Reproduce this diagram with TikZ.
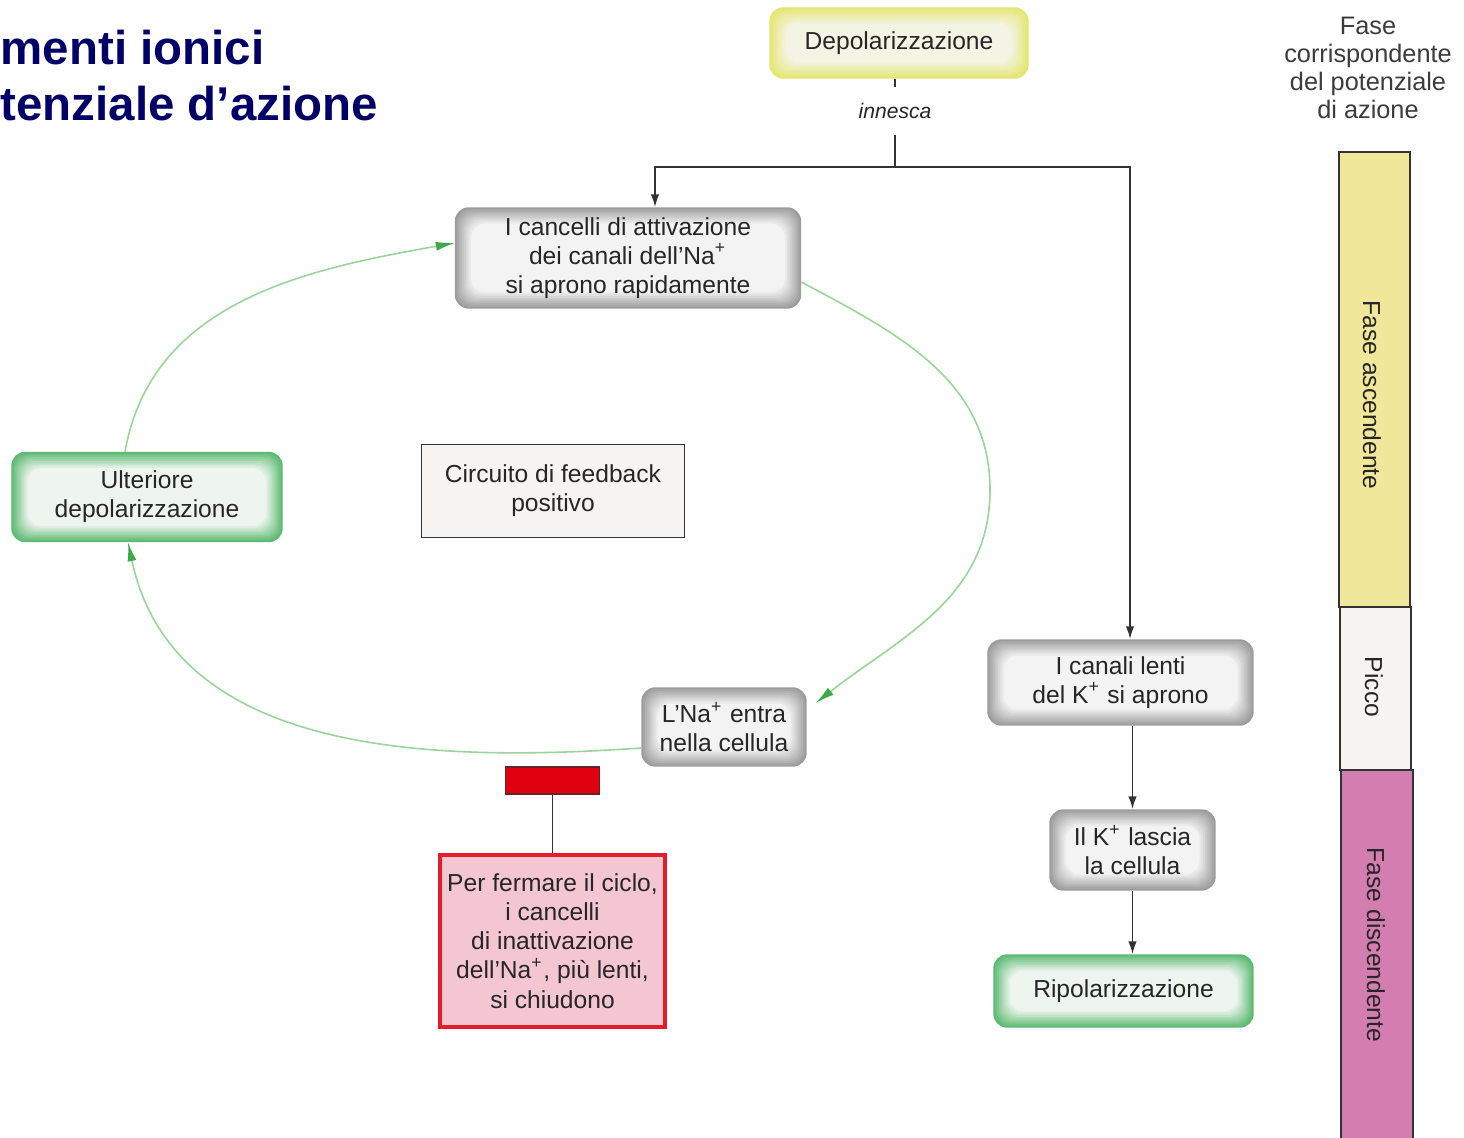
\documentclass[tikz,border=0pt]{standalone}
\usepackage{fontspec}
\setmainfont{Liberation Sans}
\usetikzlibrary{arrows.meta, positioning, backgrounds, calc}
\definecolor{CNavy}{HTML}{000066}
\definecolor{CInk}{HTML}{262626}
\definecolor{CLine}{HTML}{333333}
\definecolor{CGrayEdge}{HTML}{9C9C9C}
\definecolor{CGrayCore}{HTML}{F4F4F4}
\definecolor{CGreenEdge}{HTML}{5DBA72}
\definecolor{CGreenCore}{HTML}{F0F6F0}
\definecolor{CYellowEdge}{HTML}{E4E672}
\definecolor{CYellowCore}{HTML}{F4F4E6}
\definecolor{CLoop}{HTML}{9AD49A}
\definecolor{CLoopTip}{HTML}{3DAA4A}
\definecolor{CRedBar}{HTML}{E0000F}
\definecolor{CPinkFill}{HTML}{F4C6D2}
\definecolor{CPinkEdge}{HTML}{E21E2A}
\definecolor{CBarYellow}{HTML}{F1E79B}
\definecolor{CBarWhite}{HTML}{F6F4F2}
\definecolor{CBarPink}{HTML}{D47DB1}

% soft edged box behind a node: node, edge colour, core colour
\newcommand{\glowbox}[3]{%
  \begin{scope}[on background layer]
    \foreach \k in {0,...,9}{
      \pgfmathsetmacro{\inset}{0.018*\k}
      \pgfmathtruncatemacro{\mix}{100-11*\k}
      \fill[#2!\mix!#3, rounded corners=1.4mm]
        ([shift={(\inset,-\inset)}]#1.north west) rectangle ([shift={(-\inset,\inset)}]#1.south east);
    }
  \end{scope}}

\begin{document}
\begin{tikzpicture}[
    tag/.style={align=center, text=CInk, font=\fontsize{7}{8.3}\selectfont, inner sep=0pt},
    link/.style={CLine, line width=0.55pt},
    linkarrow/.style={link, -{Latex[length=1.3mm, width=0.85mm]}},
    feedback/.style={CLoop, line width=0.45pt, -{Latex[length=1.9mm, width=0.9mm, color=CLoopTip]}},
    heading/.style={anchor=base west, text=CNavy, font=\fontsize{13.5}{16}\selectfont\bfseries, inner sep=0pt}
]
    \useasboundingbox (0,0) rectangle (14.64,-11.38);
    \begin{scope}[on background layer]
        \fill[white] (0,0) rectangle (14.64,-11.38);
    \end{scope}

    % Title
    \node[heading] (title1) at (0.0,-0.65) {menti ionici};
    \node[heading] (title2) at (0.0,-1.21) {tenziale d’azione};

    % Trigger
    \node[tag, minimum width=2.58cm, minimum height=0.70cm] (depol) at (8.99,-0.43) {Depolarizzazione};
    \glowbox{depol}{CYellowEdge}{CYellowCore}
    \node[tag, font=\fontsize{6}{7}\selectfont\itshape, inner sep=1.6mm] (innesca) at (8.95,-1.11) {innesca};
    \coordinate (split) at (8.95,-1.67);

    % Positive feedback loop
    \node[tag, minimum width=3.45cm, minimum height=1.00cm] (cancelli) at (6.28,-2.58)
        {I cancelli di attivazione\\dei canali dell'Na\textsuperscript{+}\\si aprono rapidamente};
    \glowbox{cancelli}{CGrayEdge}{CGrayCore}
    \node[tag, minimum width=2.70cm, minimum height=0.89cm] (ulteriore) at (1.47,-4.97)
        {Ulteriore\\depolarizzazione};
    \glowbox{ulteriore}{CGreenEdge}{CGreenCore}
    \node[tag, minimum width=1.64cm, minimum height=0.78cm] (lna) at (7.24,-7.27)
        {L'Na\textsuperscript{+} entra\\nella cellula};
    \glowbox{lna}{CGrayEdge}{CGrayCore}
    \node[tag, draw=CLine, line width=0.45pt, fill=CBarWhite, minimum width=2.63cm, minimum height=0.93cm] (circuito) at (5.53,-4.91)
        {Circuito di feedback\\positivo};
    \coordinate (rim) at (9.90,-4.90);

    \draw[feedback] ([xshift=-2.2mm]ulteriore.north) to[out=80, in=190] ([yshift=1.5mm]cancelli.west);
    \draw[feedback] ([yshift=-2.4mm]cancelli.east) to[out=-28, in=90] (rim) to[out=-90, in=38] ([shift={(0.9mm,2.4mm)}]lna.east);
    \draw[feedback] ([yshift=-2.1mm]lna.west) to[out=184, in=-78] ([xshift=-1.9mm]ulteriore.south);

    % Stop of the loop
    \node[tag, draw=CPinkEdge, line width=1pt, fill=CPinkFill, minimum width=2.25cm, minimum height=1.72cm] (fermare) at (5.525,-9.41)
        {Per fermare il ciclo,\\i cancelli\\di inattivazione\\dell'Na\textsuperscript{+}, più lenti,\\si chiudono};
    \node[draw=CLine!70!CRedBar, line width=0.5pt, fill=CRedBar, minimum width=0.94cm, minimum height=0.27cm, inner sep=0pt,
        above=0.58cm of fermare] (stopbar) {};
    \draw[link] (stopbar) -- (fermare);

    % Potassium branch
    \node[tag, minimum width=2.65cm, minimum height=0.85cm] (canali) at (11.205,-6.825)
        {I canali lenti\\del K\textsuperscript{+} si aprono};
    \glowbox{canali}{CGrayEdge}{CGrayCore}
    \node[tag, minimum width=1.65cm, minimum height=0.80cm] (lascia) at (11.325,-8.50)
        {Il K\textsuperscript{+} lascia\\la cellula};
    \glowbox{lascia}{CGrayEdge}{CGrayCore}
    \node[tag, minimum width=2.59cm, minimum height=0.72cm] (ripol) at (11.235,-9.91)
        {Ripolarizzazione};
    \glowbox{ripol}{CGreenEdge}{CGreenCore}

    % Connectors
    \draw[link] (innesca |- depol.south) -- (innesca.north);
    \draw[link] (innesca.south) -- (split);
    \draw[linkarrow] (split) -| ([xshift=2.7mm]cancelli.north);
    \draw[linkarrow] (split) -| ([xshift=0.95mm]canali.north);
    \draw[linkarrow] (lascia |- canali.south) -- (lascia.north);
    \draw[linkarrow] (lascia.south) -- (lascia.south |- ripol.north);

    % Phase column
    \node[tag, font=\fontsize{7.2}{8}\selectfont, text=CInk!90!white] (fasehead) at (13.68,-0.68)
        {Fase\\corrispondente\\del potenziale\\di azione};
    \draw[CLine, line width=0.4pt, fill=CBarYellow] (13.39,-1.52) rectangle (14.10,-6.07);
    \draw[CLine, line width=0.4pt, fill=CBarWhite] (13.40,-6.07) rectangle (14.11,-7.70);
    \draw[CLine, line width=0.4pt, fill=CBarPink] (13.41,-7.70) rectangle (14.13,-11.40);
    \node[tag, rotate=-90] (ascendente) at (13.72,-3.95) {Fase ascendente};
    \node[tag, rotate=-90] (picco) at (13.74,-6.87) {Picco};
    \node[tag, rotate=-90] (discendente) at (13.76,-9.45) {Fase discendente};
\end{tikzpicture}
\end{document}
